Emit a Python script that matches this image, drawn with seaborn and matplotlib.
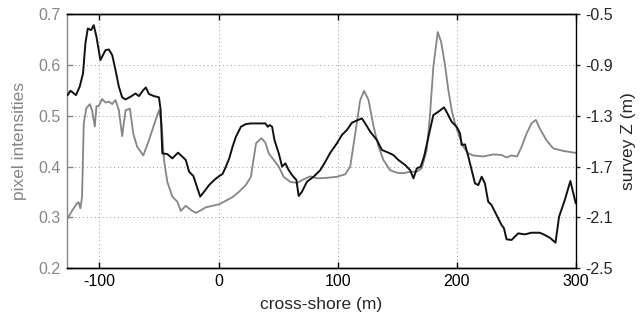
import numpy as np
import pandas as pd
import matplotlib
matplotlib.use("Agg")
import matplotlib.pyplot as plt
import seaborn as sns

# Pixel intensity profile (left axis)
pix_x = [-126.7, -124.4, -121.6, -118.8, -117.5, -116.0, -114.6, -113.2, -111.0, -108.1,
         -106.2, -103.9, -102.5, -100.6, -97.8, -94.9, -92.1, -89.3, -86.5, -83.7,
         -80.9, -78.1, -74.4, -71.6, -68.3, -63.2, -58.4, -54.2, -50.0, -47.8,
         -45.8, -43.0, -38.8, -34.6, -31.7, -27.5, -23.3, -19.1, -14.9, -10.7,
         -5.0, 0.6, 6.2, 11.8, 17.4, 23.0, 27.2, 31.5, 36.0, 39.4,
         42.2, 46.4, 50.6, 54.7, 60.3, 65.9, 71.5, 77.1, 82.7, 91.1,
         99.4, 106.4, 110.6, 114.8, 119.0, 122.3, 126.0, 130.2, 134.4, 138.5,
         144.1, 149.7, 155.3, 160.9, 166.5, 170.7, 174.9, 177.7, 180.4, 184.1,
         187.0, 190.2, 193.0, 195.8, 198.6, 201.4, 205.6, 209.8, 214.0, 222.3,
         230.7, 237.7, 241.9, 246.1, 250.8, 254.5, 258.7, 262.8, 266.5, 269.8,
         275.4, 281.0, 289.4, 300.0]
pix_val = [0.298, 0.308, 0.318, 0.328, 0.330, 0.318, 0.341, 0.485, 0.515, 0.523,
           0.511, 0.479, 0.519, 0.519, 0.533, 0.526, 0.528, 0.523, 0.531, 0.511,
           0.460, 0.511, 0.514, 0.465, 0.439, 0.422, 0.452, 0.482, 0.511, 0.485,
           0.413, 0.370, 0.341, 0.331, 0.313, 0.323, 0.315, 0.309, 0.314, 0.320,
           0.323, 0.326, 0.333, 0.340, 0.351, 0.364, 0.380, 0.446, 0.456, 0.447,
           0.426, 0.413, 0.400, 0.380, 0.370, 0.368, 0.375, 0.381, 0.377, 0.378,
           0.380, 0.385, 0.400, 0.465, 0.531, 0.549, 0.531, 0.479, 0.439, 0.413,
           0.393, 0.388, 0.387, 0.390, 0.390, 0.397, 0.433, 0.505, 0.596, 0.665,
           0.645, 0.600, 0.551, 0.511, 0.485, 0.465, 0.439, 0.426, 0.422, 0.420,
           0.424, 0.423, 0.418, 0.422, 0.420, 0.439, 0.465, 0.485, 0.492, 0.475,
           0.452, 0.436, 0.431, 0.427]

# Surveyed bed elevation (right axis)
z_x = [-126.7, -124.4, -122.2, -119.7, -116.6, -113.8, -111.8, -109.8, -107.0, -104.8,
       -102.5, -99.2, -94.9, -92.1, -89.3, -86.5, -83.7, -80.9, -78.1, -73.9,
       -69.7, -66.9, -63.2, -61.0, -58.4, -54.2, -50.0, -48.6, -47.2, -43.0,
       -38.8, -34.0, -30.3, -27.5, -24.7, -21.1, -17.7, -15.4, -12.1, -7.9,
       -3.6, 0.6, 3.4, 6.2, 9.0, 11.8, 14.6, 18.8, 23.0, 27.2,
       39.4, 41.3, 43.0, 45.0, 47.0, 50.6, 53.4, 56.1, 58.9, 61.7,
       65.4, 67.3, 70.1, 74.3, 79.9, 85.5, 89.7, 93.9, 99.4, 103.6,
       107.8, 112.0, 115.6, 120.4, 123.2, 127.4, 133.0, 137.2, 142.7, 146.9,
       151.1, 156.7, 160.9, 163.7, 166.5, 169.8, 172.6, 176.3, 180.4, 184.6,
       189.4, 192.2, 195.8, 200.0, 202.8, 204.2, 207.0, 209.8, 212.6, 215.4,
       218.2, 221.0, 223.7, 226.5, 229.3, 233.5, 237.7, 239.7, 241.9, 246.1,
       251.7, 257.3, 262.8, 269.8, 274.0, 278.2, 283.0, 286.0, 290.8, 295.5,
       300.0]
z_val = [-1.137, -1.103, -1.118, -1.137, -1.071, -0.967, -0.731, -0.613, -0.626, -0.587,
         -0.678, -0.862, -0.783, -0.778, -0.822, -0.940, -1.071, -1.155, -1.171, -1.150,
         -1.124, -1.145, -1.098, -1.077, -1.129, -1.145, -1.155, -1.255, -1.596, -1.601,
         -1.635, -1.590, -1.622, -1.648, -1.740, -1.774, -1.871, -1.936, -1.897, -1.845,
         -1.805, -1.774, -1.758, -1.700, -1.635, -1.543, -1.465, -1.386, -1.365, -1.360,
         -1.360, -1.386, -1.373, -1.386, -1.491, -1.596, -1.700, -1.674, -1.727, -1.766,
         -1.805, -1.931, -1.897, -1.818, -1.779, -1.727, -1.661, -1.590, -1.517, -1.451,
         -1.412, -1.355, -1.339, -1.320, -1.360, -1.425, -1.491, -1.569, -1.590, -1.609,
         -1.648, -1.687, -1.727, -1.792, -1.714, -1.700, -1.622, -1.465, -1.294, -1.268,
         -1.234, -1.281, -1.347, -1.386, -1.438, -1.530, -1.525, -1.622, -1.727, -1.832,
         -1.845, -1.779, -1.832, -1.976, -2.002, -2.081, -2.159, -2.185, -2.272, -2.277,
         -2.225, -2.233, -2.220, -2.220, -2.238, -2.259, -2.298, -2.094, -1.963, -1.813,
         -1.989]

x_ticks = [-100, 0, 100, 200, 300]
left_ticks = [0.2, 0.3, 0.4, 0.5, 0.6, 0.7]
right_ticks = [-2.5, -2.1, -1.7, -1.3, -0.9, -0.5]

sns.set_style("ticks")
plt.rcParams["font.family"] = ["Liberation Sans", "DejaVu Sans"]
plt.rcParams["font.size"] = 11.5

pix_df = pd.DataFrame({"x": pix_x, "v": pix_val})
z_df = pd.DataFrame({"x": z_x, "z": z_val})

fig = plt.figure(figsize=(6.44, 3.29), dpi=100)
ax = fig.add_axes([0.1045, 0.1845, 0.7895, 0.7725])
ax2 = ax.twinx()

gray = "#858585"
sns.lineplot(data=pix_df, x="x", y="v", ax=ax, color=gray, lw=1.3)
sns.lineplot(data=z_df, x="x", y="z", ax=ax2, color="#111111", lw=1.4)

ax.set_xlim(-127, 300)
ax.set_ylim(0.2, 0.7)
ax2.set_ylim(-2.5, -0.5)
ax.set_xticks(x_ticks)
ax.set_xticklabels([str(t) for t in x_ticks])
ax.set_yticks(left_ticks)
ax.set_yticklabels([f"{t:.1f}" for t in left_ticks])
ax2.set_yticks(right_ticks)
ax2.set_yticklabels([f"{t:.1f}" for t in right_ticks])

ax.grid(True, linestyle=(0, (1, 3)), color="#9a9a9a", lw=0.7)
ax.set_xlabel("cross-shore (m)", fontsize=12.5, labelpad=6)
ax.set_ylabel("pixel intensities", color=gray, fontsize=12.5, labelpad=8)
ax2.set_ylabel("survey Z (m)", fontsize=12.5, labelpad=6)

ax.tick_params(axis="x", direction="in", length=4, bottom=True, top=True,
               pad=4, colors="black", width=1.0)
ax.tick_params(axis="y", direction="in", length=4, left=True, right=False,
               labelcolor=gray, color=gray, pad=5, width=1.0)
ax2.tick_params(axis="y", direction="out", length=3, right=True, left=False,
                pad=4, width=1.0)
for a in (ax, ax2):
    for s in a.spines.values():
        s.set_visible(True)
        s.set_color("black")
        s.set_linewidth(1.0)
ax2.spines["left"].set_visible(False)
ax.spines["right"].set_visible(False)
ax.spines["left"].set_color(gray)

fig.savefig("out.png", dpi=100)
